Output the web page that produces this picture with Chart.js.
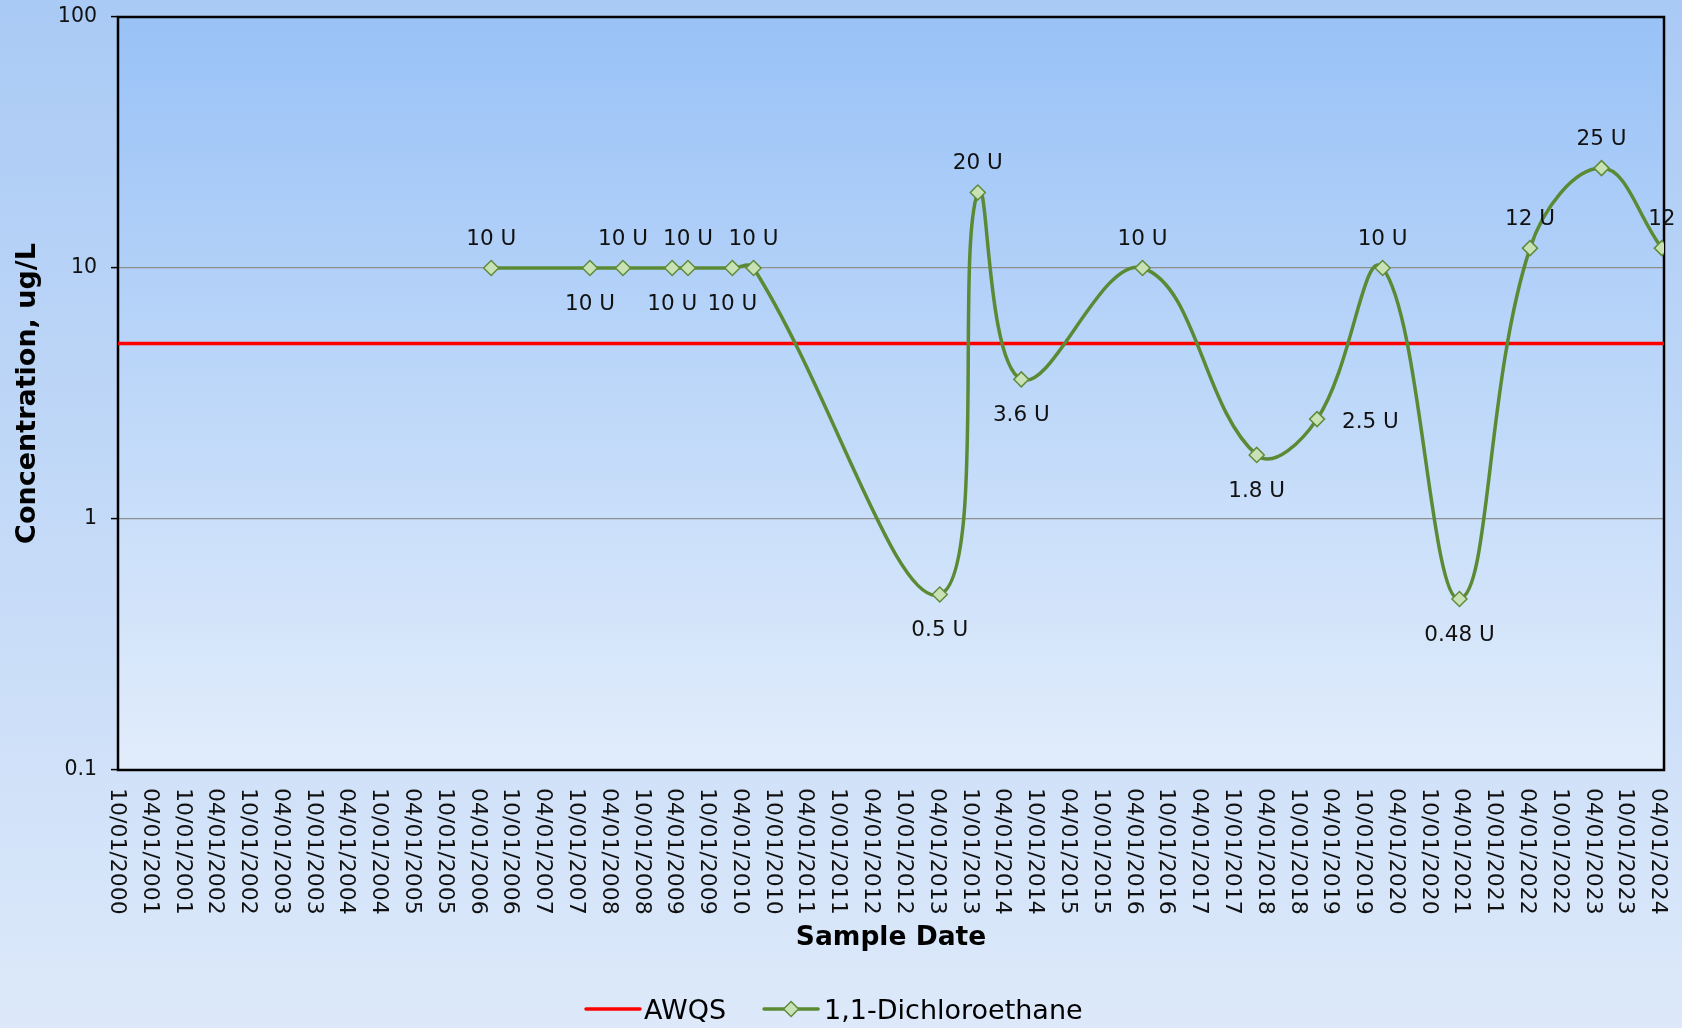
<!DOCTYPE html>
<html>
<head>
<meta charset="utf-8">
<script src="https://cdn.jsdelivr.net/npm/chart.js@4.4.1/dist/chart.umd.min.js"></script>
<style>
html,body{margin:0;padding:0;background:#dbe8fa;}
canvas{display:block;}
</style>
</head>
<body>
<canvas id="c" width="1682" height="1028"></canvas>
<script>
// ---------------- DATA ----------------
const sampleDates = ["2006-06-10","2007-12-12","2008-06-13","2009-03-14","2009-06-10","2010-02-12","2010-06-10",
  "2013-04-12","2013-11-10","2014-07-10","2016-05-15","2018-02-10","2019-01-12","2020-01-12",
  "2021-03-15","2022-04-12","2023-05-15","2024-04-15"];
const concentrations = [10,10,10,10,10,10,10,0.5,20,3.6,10,1.8,2.5,10,0.48,12,25,12];
const qualifiers = ["U","U","U","U","U","U","U","U","U","U","U","U","U","U","U","U","U","U"];
const awqsValue = 5;
const axisStart = "10/01/2000";
const axisEnd = "04/27/2024";
const xTickLabels = ["10/01/2000",
  "04/01/2001","10/01/2001","04/01/2002","10/01/2002","04/01/2003","10/01/2003","04/01/2004","10/01/2004",
  "04/01/2005","10/01/2005","04/01/2006","10/01/2006","04/01/2007","10/01/2007","04/01/2008","10/01/2008",
  "04/01/2009","10/01/2009","04/01/2010","10/01/2010","04/01/2011","10/01/2011","04/01/2012","10/01/2012",
  "04/01/2013","10/01/2013","04/01/2014","10/01/2014","04/01/2015","10/01/2015","04/01/2016","10/01/2016",
  "04/01/2017","10/01/2017","04/01/2018","10/01/2018","04/01/2019","10/01/2019","04/01/2020","10/01/2020",
  "04/01/2021","10/01/2021","04/01/2022","10/01/2022","04/01/2023","10/01/2023","04/01/2024"];
const yTickValues = [0.1, 1, 10, 100];
const seriesNames = ["AWQS", "1,1-Dichloroethane"];
const xAxisTitle = "Sample Date";
const yAxisTitle = "Concentration, ug/L";

// ---------------- HELPERS / STYLE ----------------
function isoMs(s){ const p = s.split("-").map(Number); return Date.UTC(p[0], p[1]-1, p[2]); }
function usMs(s){ const p = s.split("/").map(Number); return Date.UTC(p[2], p[0]-1, p[1]); }

const labelPlacement = ["above","below","above","below","above","below","above","below","above","below",
  "above","below","right","above","below","above","above","above"];
const FONT = '"DejaVu Sans", Verdana, sans-serif';
const GREEN = '#5b8a35';
const MARK_FILL = '#c9e2b5';
const MARK_EDGE = '#5f8c3a';
const LABEL_SIZE = 21.5;

const decorPlugin = {
  id: 'decor',
  beforeDraw(chart){
    const {ctx, width, height, chartArea:a} = chart;
    ctx.save();
    let g = ctx.createLinearGradient(0,0,0,height);
    g.addColorStop(0,'#a9caf5'); g.addColorStop(1,'#dde9fa');
    ctx.fillStyle = g; ctx.fillRect(0,0,width,height);
    g = ctx.createLinearGradient(0,a.top,0,a.bottom);
    g.addColorStop(0,'#99c2f7'); g.addColorStop(1,'#e2edfb');
    ctx.fillStyle = g; ctx.fillRect(a.left,a.top,a.right-a.left,a.bottom-a.top);
    ctx.restore();
  },
  beforeDatasetsDraw(chart){
    const {ctx, chartArea:a} = chart;
    ctx.save();
    ctx.strokeStyle = '#000'; ctx.lineWidth = 2.5;
    ctx.strokeRect(a.left, a.top, a.right-a.left, a.bottom-a.top);
    ctx.restore();
  },
  afterDatasetsDraw(chart){
    const {ctx, width} = chart;
    const meta = chart.getDatasetMeta(1);
    const cap = 0.729 * LABEL_SIZE;
    ctx.save();
    ctx.font = LABEL_SIZE + 'px ' + FONT;
    ctx.fillStyle = '#111';
    ctx.textBaseline = 'alphabetic';
    meta.data.forEach((pt, i) => {
      const val = String(concentrations[i]);
      const txt = val + ' ' + qualifiers[i];
      const pos = labelPlacement[i];
      if (pos === 'right') {
        ctx.textAlign = 'left';
        ctx.fillText(txt, pt.x + 25, pt.y + 1.5 + cap/2);
        return;
      }
      const y = pos === 'below' ? pt.y + 34 + cap/2 : pt.y - 31 + cap/2;
      const w = ctx.measureText(txt).width;
      if (pt.x + w/2 > width) {
        // no room: centre the value on the point, qualifier runs off the edge
        const vw = ctx.measureText(val).width;
        ctx.textAlign = 'left';
        ctx.fillText(txt, pt.x - vw/2, y);
      } else {
        ctx.textAlign = 'center';
        ctx.fillText(txt, pt.x, y);
      }
    });
    ctx.restore();
  },
  afterDraw(chart){
    const {ctx, chartArea:a} = chart;
    const xs = chart.scales.x;
    ctx.save();
    // x tick labels, rotated clockwise
    const fs = 22;
    ctx.font = fs + 'px ' + FONT;
    ctx.fillStyle = '#111';
    ctx.textAlign = 'left';
    ctx.textBaseline = 'alphabetic';
    const cap = 0.729 * fs;
    xTickLabels.forEach(lbl => {
      const px = xs.getPixelForValue(usMs(lbl));
      ctx.save();
      ctx.translate(px + 1 - cap/2, a.bottom + 18);
      ctx.rotate(Math.PI/2);
      ctx.fillText(lbl, 0, 0);
      ctx.restore();
    });
    // legend
    const ly = 1009;
    let lx = 586;
    ctx.font = '27px ' + FONT;
    ctx.fillStyle = '#000';
    ctx.textAlign = 'left';
    ctx.lineCap = 'round';
    ctx.strokeStyle = '#ff0000'; ctx.lineWidth = 3.5;
    ctx.beginPath(); ctx.moveTo(lx, ly); ctx.lineTo(lx+54, ly); ctx.stroke();
    lx += 58;
    ctx.fillText(seriesNames[0], lx, ly + 10);
    lx += ctx.measureText(seriesNames[0]).width + 38;
    ctx.strokeStyle = GREEN; ctx.lineWidth = 3.5;
    ctx.beginPath(); ctx.moveTo(lx, ly); ctx.lineTo(lx+54, ly); ctx.stroke();
    const cx = lx + 27, r = 7.5;
    ctx.beginPath(); ctx.moveTo(cx-r, ly); ctx.lineTo(cx, ly-r); ctx.lineTo(cx+r, ly); ctx.lineTo(cx, ly+r); ctx.closePath();
    ctx.fillStyle = MARK_FILL; ctx.fill();
    ctx.strokeStyle = MARK_EDGE; ctx.lineWidth = 1.5; ctx.stroke();
    lx += 60;
    ctx.fillStyle = '#000';
    ctx.fillText(seriesNames[1], lx, ly + 10);
    ctx.restore();
  }
};

const xMin = usMs(axisStart), xMax = usMs(axisEnd);

new Chart(document.getElementById('c'), {
  type: 'line',
  data: {
    datasets: [
      {
        label: seriesNames[0],
        data: [{x: xMin, y: awqsValue}, {x: xMax, y: awqsValue}],
        borderColor: '#ff0000', borderWidth: 3.5, pointRadius: 0, tension: 0, order: 1
      },
      {
        label: seriesNames[1],
        data: sampleDates.map((d, i) => ({x: isoMs(d), y: concentrations[i]})),
        borderColor: GREEN, borderWidth: 3.5, tension: 0.4,
        pointStyle: 'rectRot', pointRadius: 7.5, pointHoverRadius: 7.5,
        pointBackgroundColor: MARK_FILL, pointBorderColor: MARK_EDGE, pointBorderWidth: 1.5,
        order: 0
      }
    ]
  },
  options: {
    responsive: false,
    animation: false,
    devicePixelRatio: 1,
    layout: { padding: { left: 0, top: 17, right: 18, bottom: 58 } },
    plugins: { legend: { display: false }, tooltip: { enabled: false }, title: { display: false } },
    scales: {
      x: {
        type: 'linear', min: xMin, max: xMax,
        afterBuildTicks: s => { s.ticks = xTickLabels.map(l => ({value: usMs(l)})); },
        afterFit: s => { s.height = 200; s.paddingLeft = 0; s.paddingRight = 0; },
        ticks: { display: false },
        grid: { display: false },
        border: { display: false },
        title: { display: true, text: xAxisTitle, color: '#000',
          font: { family: FONT, size: 26.5, weight: 'bold', lineHeight: 1 },
          padding: { top: 0, bottom: 19 } }
      },
      y: {
        type: 'logarithmic', min: 0.1, max: 100,
        afterBuildTicks: s => { s.ticks = yTickValues.map(v => ({value: v, major: true})); },
        afterFit: s => { s.width = 118; s.paddingTop = 0; s.paddingBottom = 0; },
        ticks: { color: '#111', padding: 14, font: { family: FONT, size: 20.5, lineHeight: 1 },
          callback: v => String(v) },
        grid: { color: '#8e8e8e', lineWidth: 1.2, tickLength: 7, tickColor: '#000', tickWidth: 1.5 },
        border: { display: false },
        title: { display: true, text: yAxisTitle, color: '#000',
          font: { family: FONT, size: 27, weight: 'bold', lineHeight: 1 },
          padding: { top: 14.5, bottom: 0 } }
      }
    }
  },
  plugins: [decorPlugin]
});
</script>
</body>
</html>
